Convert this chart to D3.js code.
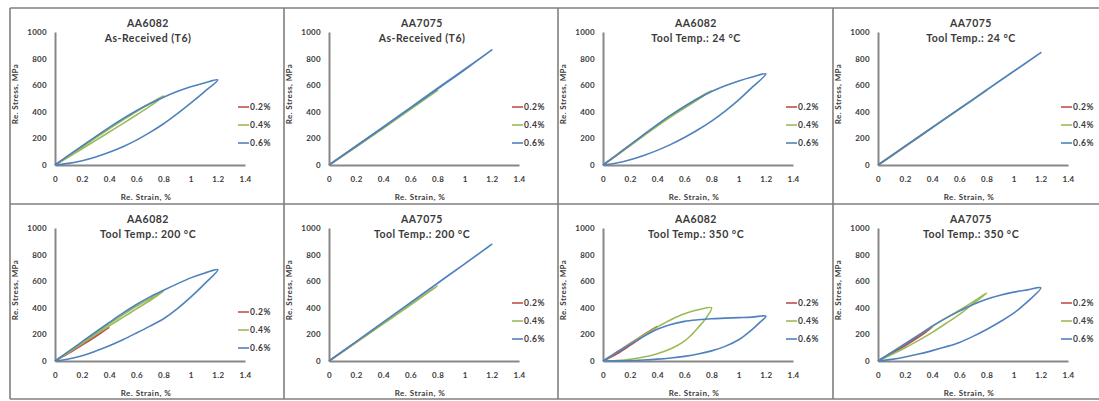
<!DOCTYPE html>
<html><head><meta charset="utf-8">
<script src="https://cdn.jsdelivr.net/npm/d3@7"></script>
<style>html,body{margin:0;padding:0;background:#fff;overflow:hidden}</style>
</head><body>
<svg id="chart" width="1099" height="401"></svg>
<script>
// ---------- data ----------
const titleLine1 = ["AA6082","AA7075","AA6082","AA7075","AA6082","AA7075","AA6082","AA7075"];
const titleLine2 = ["As-Received (T6)","As-Received (T6)","Tool Temp.: 24 °C","Tool Temp.: 24 °C",
                    "Tool Temp.: 200 °C","Tool Temp.: 200 °C","Tool Temp.: 350 °C","Tool Temp.: 350 °C"];
const seriesNames = ["0.2%","0.4%","0.6%"];
const xTicks = [0,0.2,0.4,0.6,0.8,1,1.2,1.4];
const yTicks = [0,200,400,600,800,1000];
const xLabel = "Re. Strain, %";
const yLabel = "Re. Stress, MPa";

// [strain %, stress MPa] – loading then unloading
const aa6082_T6_02 = [[0,0],[0.1,70],[0.2,140],[0.3,210],[0.4,278],[0.3,210],[0.2,140],[0.1,68],[0,0]];
const aa6082_T6_04 = [[0,0],[0.1,68],[0.2,136],[0.3,205],[0.4,272],[0.5,338],[0.6,402],[0.7,462],[0.8,520],
                      [0.7,442],[0.6,376],[0.5,311],[0.4,248],[0.3,185],[0.2,122],[0.1,60],[0,0]];
const aa6082_T6_06 = [[0,0],[0.1,72],[0.2,143],[0.3,214],[0.4,283],[0.5,348],[0.6,408],[0.7,462],[0.8,510],[0.9,552],[1.0,588],[1.1,617],[1.2,640],
                      [1.1,550],[1.0,465],[0.9,385],[0.8,310],[0.7,245],[0.6,187],[0.5,137],[0.4,95],[0.3,60],[0.2,32],[0.1,12],[0,0]];

const aa7075_T6_02 = [[0,0],[0.2,141],[0.4,283],[0.2,139],[0,0]];
const aa7075_T6_04 = [[0,0],[0.2,140],[0.4,282],[0.6,422],[0.8,562],[0.6,418],[0.4,276],[0.2,136],[0,0]];
const aa7075_T6_06 = [[0,0],[0.2,143],[0.4,287],[0.6,432],[0.8,577],[1.0,720],[1.2,865],[1.0,716],[0.8,572],[0.6,428],[0.4,284],[0.2,141],[0,0]];

const aa6082_24_02 = [[0,0],[0.1,75],[0.2,150],[0.3,226],[0.4,300],[0.3,224],[0.2,148],[0.1,73],[0,0]];
const aa6082_24_04 = [[0,0],[0.1,75],[0.2,151],[0.3,227],[0.4,302],[0.5,374],[0.6,441],[0.7,503],[0.8,560],
                      [0.7,492],[0.6,428],[0.5,362],[0.4,293],[0.3,220],[0.2,146],[0.1,72],[0,0]];
const aa6082_24_06 = [[0,0],[0.1,75],[0.2,152],[0.3,228],[0.4,303],[0.5,375],[0.6,440],[0.7,500],[0.8,552],[0.9,595],[1.0,632],[1.1,662],[1.2,685],
                      [1.1,585],[1.0,490],[0.9,405],[0.8,330],[0.7,265],[0.6,207],[0.5,155],[0.4,110],[0.3,72],[0.2,40],[0.1,15],[0,0]];

const aa7075_24_02 = [[0,0],[0.2,141],[0.4,281],[0.2,140],[0,0]];
const aa7075_24_04 = [[0,0],[0.2,141],[0.4,282],[0.6,422],[0.8,562],[0.6,421],[0.4,281],[0.2,140],[0,0]];
const aa7075_24_06 = [[0,0],[0.2,141],[0.4,282],[0.6,423],[0.8,564],[1.0,705],[1.2,845],[1.0,704],[0.8,563],[0.6,422],[0.4,281],[0.2,140],[0,0]];

const aa6082_200_02 = [[0,0],[0.1,62],[0.2,125],[0.3,188],[0.4,252],[0.3,184],[0.2,119],[0.1,57],[0,0]];
const aa6082_200_04 = [[0,0],[0.1,70],[0.2,140],[0.3,210],[0.4,280],[0.5,348],[0.6,412],[0.7,470],[0.8,525],
                       [0.7,455],[0.6,392],[0.5,328],[0.4,264],[0.3,198],[0.2,131],[0.1,64],[0,0]];
const aa6082_200_06 = [[0,0],[0.1,72],[0.2,145],[0.3,218],[0.4,290],[0.5,360],[0.6,425],[0.7,482],[0.8,532],[0.9,580],[1.0,625],[1.1,660],[1.2,687],
                       [1.1,578],[1.0,480],[0.9,392],[0.8,318],[0.7,262],[0.6,210],[0.5,160],[0.4,115],[0.3,75],[0.2,40],[0.1,15],[0,0]];

const aa7075_200_02 = [[0,0],[0.2,142],[0.4,285],[0.2,140],[0,0]];
const aa7075_200_04 = [[0,0],[0.2,142],[0.4,284],[0.6,425],[0.8,565],[0.6,420],[0.4,280],[0.2,140],[0,0]];
const aa7075_200_06 = [[0,0],[0.2,146],[0.4,293],[0.6,439],[0.8,585],[1.0,731],[1.2,878],[1.0,730],[0.8,584],[0.6,438],[0.4,292],[0.2,145],[0,0]];

const aa6082_350_02 = [[0,0],[0.1,66],[0.2,132],[0.3,198],[0.4,262],[0.3,188],[0.2,118],[0.1,52],[0,0]];
const aa6082_350_04 = [[0,0],[0.1,65],[0.2,130],[0.3,195],[0.4,255],[0.5,310],[0.6,355],[0.7,385],[0.8,400],
                       [0.75,310],[0.7,250],[0.65,195],[0.6,150],[0.5,92],[0.4,55],[0.3,30],[0.2,13],[0.1,4],[0,0]];
const aa6082_350_06 = [[0,0],[0.1,62],[0.2,125],[0.3,185],[0.4,238],[0.5,275],[0.6,298],[0.7,310],[0.8,318],[0.9,322],[1.0,326],[1.1,330],[1.2,337],
                       [1.15,285],[1.1,238],[1.05,196],[1.0,160],[0.9,110],[0.8,76],[0.7,52],[0.6,35],[0.5,23],[0.4,14],[0.3,8],[0.2,4],[0.1,1],[0,0]];

const aa7075_350_02 = [[0,0],[0.1,64],[0.2,128],[0.3,192],[0.4,255],[0.3,180],[0.2,115],[0.1,55],[0,0]];
const aa7075_350_04 = [[0,0],[0.1,65],[0.2,130],[0.3,195],[0.4,260],[0.5,322],[0.6,382],[0.7,445],[0.8,510],
                       [0.7,430],[0.6,350],[0.5,282],[0.4,215],[0.3,155],[0.2,100],[0.1,48],[0,0]];
const aa7075_350_06 = [[0,0],[0.1,62],[0.2,128],[0.3,195],[0.4,262],[0.5,322],[0.6,375],[0.7,425],[0.8,465],[0.9,495],[1.0,518],[1.1,535],[1.2,550],
                       [1.1,445],[1.0,360],[0.9,295],[0.8,237],[0.7,185],[0.6,140],[0.5,107],[0.4,78],[0.3,52],[0.2,30],[0.1,12],[0,0]];

const panelSeries = [
  [aa6082_T6_02, aa6082_T6_04, aa6082_T6_06],
  [aa7075_T6_02, aa7075_T6_04, aa7075_T6_06],
  [aa6082_24_02, aa6082_24_04, aa6082_24_06],
  [aa7075_24_02, aa7075_24_04, aa7075_24_06],
  [aa6082_200_02, aa6082_200_04, aa6082_200_06],
  [aa7075_200_02, aa7075_200_04, aa7075_200_06],
  [aa6082_350_02, aa6082_350_04, aa6082_350_06],
  [aa7075_350_02, aa7075_350_04, aa7075_350_06]
];

// ---------- layout ----------
const colors = ["#c0504d","#9bbb59","#4f81bd"];
const panelLeft = [10, 284, 558, 833];
const rowTop = [8, 204];
const rowBottom = [204, 399];
const font = "Lato, 'Open Sans', sans-serif";
const textColor = "#3a3a3a";

const svg = d3.select("#chart");

// frames
const frame = svg.append("g").attr("fill","none").attr("stroke","#7f7f7f").attr("stroke-width",1.6);
frame.append("line").attr("x1",panelLeft[0]).attr("x2",1099).attr("y1",rowTop[0]).attr("y2",rowTop[0]);
frame.append("line").attr("x1",panelLeft[0]).attr("x2",1099).attr("y1",rowTop[1]).attr("y2",rowTop[1]);
frame.append("line").attr("x1",panelLeft[0]).attr("x2",1099).attr("y1",rowBottom[1]).attr("y2",rowBottom[1]);
panelLeft.forEach(x => frame.append("line").attr("x1",x).attr("x2",x).attr("y1",rowTop[0]).attr("y2",rowBottom[1]));

const x = d3.scaleLinear().domain([0,1.4]).range([45,235]);
const y = d3.scaleLinear().domain([0,1000]).range([157,24]);
const line = d3.line().x(d => x(d[0])).y(d => y(d[1])).curve(d3.curveCatmullRom.alpha(0.5));

function styleText(sel, size, ls) {
  sel.attr("font-family",font).attr("font-weight","bold").attr("font-size",size)
     .attr("letter-spacing",ls).attr("fill",textColor);
}

panelSeries.forEach((series, i) => {
  const row = Math.floor(i/4), col = i%4;
  const g = svg.append("g").attr("transform", `translate(${panelLeft[col]},${rowTop[row]})`);

  // axes
  const xa = g.append("g").attr("transform",`translate(0,${y(0)})`)
    .call(d3.axisBottom(x).tickValues(xTicks).tickSize(0).tickPadding(11).tickFormat(d3.format("~g")));
  const ya = g.append("g").attr("transform",`translate(${x(0)},0)`)
    .call(d3.axisLeft(y).tickValues(yTicks).tickSize(0).tickPadding(8).tickFormat(d3.format("d")));
  [xa, ya].forEach(a => {
    a.select(".domain").attr("stroke","#878787").attr("stroke-width",2);
    styleText(a.selectAll("text"), 8, 0.3);
  });

  // series
  series.forEach((d, k) => {
    g.append("path").datum(d).attr("d", line).attr("fill","none")
      .attr("stroke", colors[k]).attr("stroke-width", 1.6).attr("stroke-linejoin","round");
  });

  // titles
  styleText(g.append("text").attr("x",138).attr("y",18.5).attr("text-anchor","middle").text(titleLine1[i]), 10.5, 0.5);
  styleText(g.append("text").attr("x",138).attr("y",33.5).attr("text-anchor","middle").text(titleLine2[i]), 10.5, 0.5);

  // axis titles
  styleText(g.append("text").attr("x",136).attr("y",192).attr("text-anchor","middle").text(xLabel), 8, 0.5);
  styleText(g.append("text").attr("transform",`translate(8,86) rotate(-90)`).attr("text-anchor","middle").text(yLabel), 8, 0.4);

  // legend
  const ly0 = (i === 4) ? 108 : 99;
  seriesNames.forEach((n, k) => {
    const ly = ly0 + k*18;
    g.append("line").attr("x1",228).attr("x2",239).attr("y1",ly).attr("y2",ly)
      .attr("stroke",colors[k]).attr("stroke-width",1.6);
    styleText(g.append("text").attr("x",240).attr("y",ly+3).text(n), 8.5, 0.5);
  });
});
</script>
</body></html>
